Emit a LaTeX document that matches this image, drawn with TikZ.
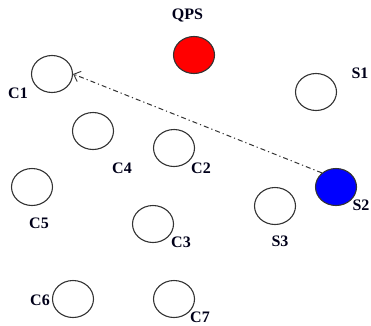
\documentclass[tikz,border=0pt]{standalone}
\usepackage{fontspec}
\setmainfont{Liberation Serif}
\usetikzlibrary{shapes.geometric,arrows.meta}
\begin{document}
\begin{tikzpicture}[x=1pt,y=-1pt,
  site/.style={ellipse,draw=black!80,line width=1.1pt,minimum width=41pt,minimum height=37pt,inner sep=0pt},
  lbl/.style={font=\fontsize{16}{16}\selectfont\bfseries,inner sep=0pt,text=black!90!blue},
  path/.style={draw=black!80,line width=1pt,dash pattern=on 5pt off 3pt on 1.2pt off 3pt,
    -{Straight Barb[length=6pt,width=11pt,line width=0.9pt]}}]
\useasboundingbox (0,0) rectangle (371,325);
% sites
\node[site,fill=red] (qps) at (194,55) {};
\node[site] (c1) at (52,74) {};
\node[site] (s1) at (316,92) {};
\node[site] (c4) at (93,131) {};
\node[site] (c2) at (174,148) {};
\node[site] (c5) at (32,187) {};
\node[site,fill=blue] (s2) at (336,187) {};
\node[site] (s3) at (275,206) {};
\node[site] (c3) at (153,224) {};
\node[site] (c6) at (73,299) {};
\node[site] (c7) at (174,299) {};
% labels
\node[lbl] (lqps) at (187.5,15) {QPS};
\node[lbl] (lc1) at (18,93) {C1};
\node[lbl] (ls1) at (360,73) {S1};
\node[lbl] (lc4) at (122,168) {C4};
\node[lbl] (lc2) at (201,168) {C2};
\node[lbl] (ls2) at (361,205) {S2};
\node[lbl] (lc5) at (39,223) {C5};
\node[lbl] (lc3) at (181,242) {C3};
\node[lbl] (ls3) at (280,241) {S3};
\node[lbl] (lc6) at (40,300) {C6};
\node[lbl] (lc7) at (200,317) {C7};
% message path
\draw[path] (s2.135) -- (c1.east);
\end{tikzpicture}
\end{document}
